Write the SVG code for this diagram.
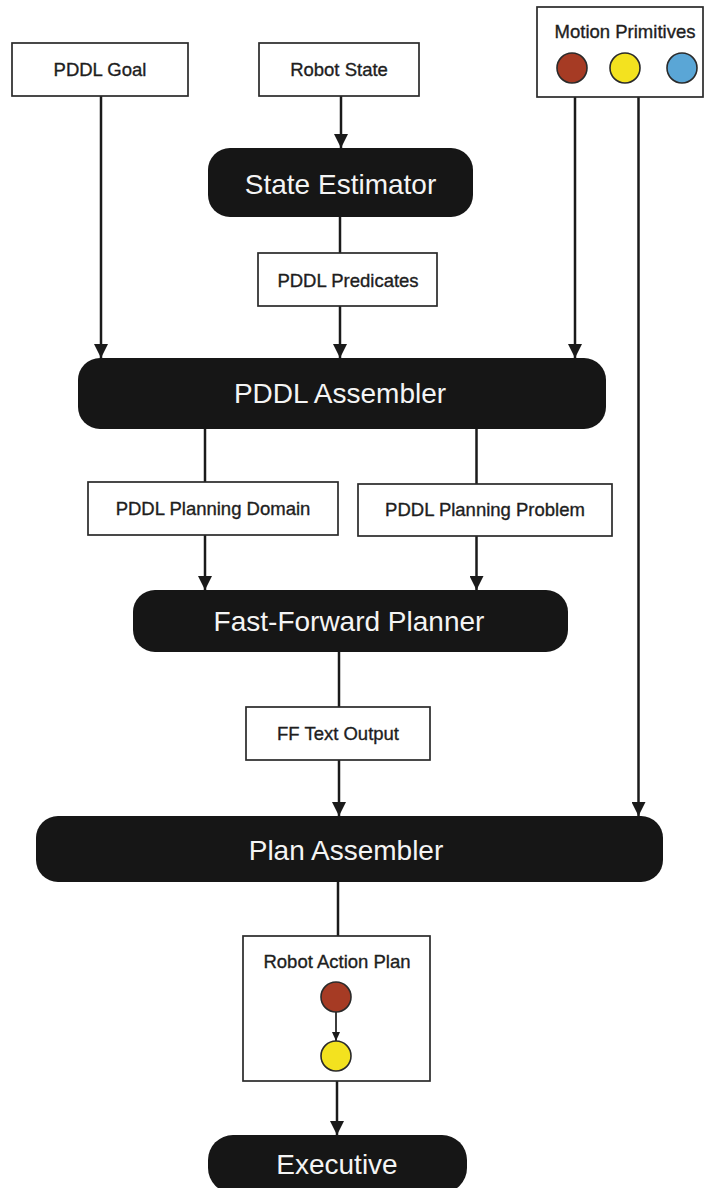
<svg xmlns="http://www.w3.org/2000/svg" width="707" height="1188" viewBox="0 0 707 1188">
  <style>
    .box { fill: #ffffff; stroke: #2a2a2a; stroke-width: 1.7; }
    .proc { fill: #161616; }
    .lbl { font-family: "Liberation Sans", Arial, sans-serif; font-size: 18.5px; fill: #1e1e1e; stroke: #1e1e1e; stroke-width: 0.35; text-anchor: middle; }
    .big { font-family: "Liberation Sans", Arial, sans-serif; font-size: 28px; fill: #f4f4f4; text-anchor: middle; }
    .edge { fill: none; stroke: #1a1a1a; stroke-width: 2.5; }
    .thin { fill: none; stroke: #1a1a1a; stroke-width: 1.7; }
    .dot { stroke: #2a2a2a; stroke-width: 1.6; }
    .red { fill: #a63b24; }
    .yellow { fill: #f3e21f; }
    .blue { fill: #5aa6d6; }
  </style>
  <defs>
    <marker id="arrow" markerUnits="userSpaceOnUse" markerWidth="14" markerHeight="14" refX="14" refY="7" orient="auto">
      <path d="M0,0 L14,7 L0,14 Z" fill="#1a1a1a"/>
    </marker>
    <marker id="arrow-small" markerUnits="userSpaceOnUse" markerWidth="9" markerHeight="9" refX="9" refY="4.5" orient="auto">
      <path d="M0,0.5 L9,4.5 L0,8.5 Z" fill="#1a1a1a"/>
    </marker>
  </defs>

  <rect width="707" height="1188" fill="#ffffff"/>

  <!-- connectors -->
  <g id="connectors">
    <line class="edge" x1="101" y1="96" x2="101" y2="358" marker-end="url(#arrow)"/>
    <line class="edge" x1="341" y1="96" x2="341" y2="148" marker-end="url(#arrow)"/>
    <line class="edge" x1="340" y1="217" x2="340" y2="253"/>
    <line class="edge" x1="340" y1="306" x2="340" y2="358" marker-end="url(#arrow)"/>
    <line class="edge" x1="575" y1="97" x2="575" y2="358" marker-end="url(#arrow)"/>
    <line class="edge" x1="638.5" y1="97" x2="638.5" y2="816" marker-end="url(#arrow)"/>
    <line class="edge" x1="205" y1="429" x2="205" y2="482"/>
    <line class="edge" x1="476.5" y1="429" x2="476.5" y2="484"/>
    <line class="edge" x1="205" y1="535" x2="205" y2="590" marker-end="url(#arrow)"/>
    <line class="edge" x1="476.5" y1="536" x2="476.5" y2="590" marker-end="url(#arrow)"/>
    <line class="edge" x1="339" y1="652" x2="339" y2="707"/>
    <line class="edge" x1="339" y1="760" x2="339" y2="816" marker-end="url(#arrow)"/>
    <line class="edge" x1="338" y1="882" x2="338" y2="936"/>
    <line class="edge" x1="337" y1="1081" x2="337" y2="1135" marker-end="url(#arrow)"/>
  </g>

  <g id="pddl-goal">
    <rect class="box" x="12" y="43" width="176" height="53"/>
    <text class="lbl" x="100" y="76">PDDL Goal</text>
  </g>

  <g id="robot-state">
    <rect class="box" x="259" y="43" width="160" height="53"/>
    <text class="lbl" x="339" y="76">Robot State</text>
  </g>

  <g id="motion-primitives">
    <rect class="box" x="537" y="7" width="166" height="90"/>
    <text class="lbl" x="625" y="38">Motion Primitives</text>
    <circle class="dot red" cx="572" cy="68" r="15"/>
    <circle class="dot yellow" cx="625" cy="68" r="15"/>
    <circle class="dot blue" cx="682" cy="68" r="15"/>
  </g>

  <g id="state-estimator">
    <rect class="proc" x="208" y="148" width="265" height="69" rx="22"/>
    <text class="big" x="340.5" y="194">State Estimator</text>
  </g>

  <g id="pddl-predicates">
    <rect class="box" x="258" y="253" width="179" height="53"/>
    <text class="lbl" x="348" y="287">PDDL Predicates</text>
  </g>

  <g id="pddl-assembler">
    <rect class="proc" x="78" y="358" width="528" height="71" rx="22"/>
    <text class="big" x="340" y="403">PDDL Assembler</text>
  </g>

  <g id="planning-domain">
    <rect class="box" x="88" y="482" width="250" height="53"/>
    <text class="lbl" x="213" y="515">PDDL Planning Domain</text>
  </g>

  <g id="planning-problem">
    <rect class="box" x="358" y="484" width="254" height="52"/>
    <text class="lbl" x="485" y="516">PDDL Planning Problem</text>
  </g>

  <g id="ff-planner">
    <rect class="proc" x="133" y="590" width="435" height="62" rx="22"/>
    <text class="big" x="349" y="631">Fast-Forward Planner</text>
  </g>

  <g id="ff-text-output">
    <rect class="box" x="246" y="707" width="184" height="53"/>
    <text class="lbl" x="338" y="740">FF Text Output</text>
  </g>

  <g id="plan-assembler">
    <rect class="proc" x="36" y="816" width="627" height="66" rx="22"/>
    <text class="big" x="346" y="860">Plan Assembler</text>
  </g>

  <g id="robot-action-plan">
    <rect class="box" x="243" y="936" width="187" height="145"/>
    <text class="lbl" x="337" y="968">Robot Action Plan</text>
    <line class="thin" x1="336" y1="1012" x2="336" y2="1041" marker-end="url(#arrow-small)"/>
    <circle class="dot red" cx="336" cy="997" r="15"/>
    <circle class="dot yellow" cx="336" cy="1056" r="15"/>
  </g>

  <g id="executive">
    <rect class="proc" x="208" y="1135" width="259" height="58" rx="25"/>
    <text class="big" x="337" y="1174">Executive</text>
  </g>
</svg>
